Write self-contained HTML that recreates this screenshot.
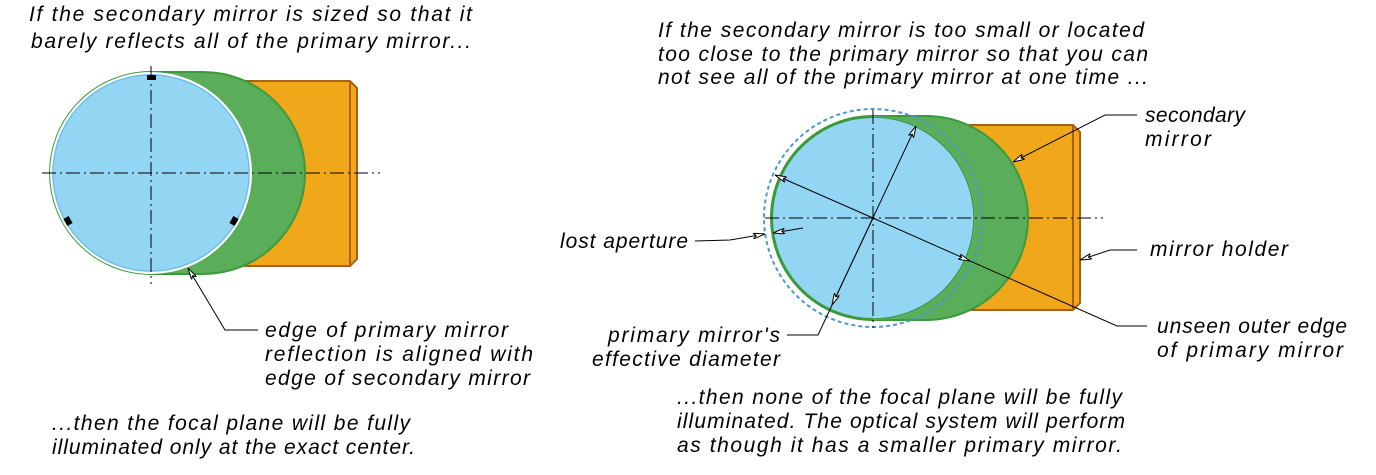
<!DOCTYPE html>
<html><head><meta charset="utf-8"><style>
html,body{margin:0;padding:0;background:#fff;}
svg{display:block}
text{font-family:"Liberation Sans",sans-serif;font-style:italic;font-size:21px;fill:#000;}
</style></head><body>
<svg width="1376" height="475" viewBox="0 0 1376 475" xmlns="http://www.w3.org/2000/svg">
<defs>
<marker id="ar" viewBox="0 0 12 6" refX="12" refY="3" markerWidth="12" markerHeight="6" orient="auto" markerUnits="userSpaceOnUse">
<path d="M0,0 L12,3 L0,6 L3,3 Z" fill="#fff" stroke="#000" stroke-width="1"/>
</marker>
<marker id="as" viewBox="0 0 12 6" refX="0" refY="3" markerWidth="12" markerHeight="6" orient="auto" markerUnits="userSpaceOnUse">
<path d="M12,0 L0,3 L12,6 L9,3 Z" fill="#fff" stroke="#000" stroke-width="1"/>
</marker>
</defs>

<!-- LEFT FIGURE -->
<polygon points="245,81 350,81 357,88 357,259 350,266 245,266" fill="#f0a81a" stroke="#a8601a" stroke-width="2"/>
<line x1="350" y1="82" x2="350" y2="265" stroke="#a8601a" stroke-width="2"/>
<g fill="#5aae5a" stroke="#3c9a3c" stroke-width="2">
<path d="M151,72 L203,72 A102,101 0 0 1 203,274 L151,274 A101,101 0 0 1 151,72 Z"/>
</g>
<circle cx="151" cy="173" r="100" fill="#92d6f4" stroke="#fff" stroke-width="2"/>
<circle cx="151" cy="173" r="98" fill="none" stroke="#6cb8e0" stroke-width="1"/>
<rect x="147" y="75" width="9" height="5" fill="#000"/>
<rect x="65" y="217" width="6" height="8" fill="#000" transform="rotate(-30 68 221)"/>
<rect x="231" y="217" width="6" height="8" fill="#000" transform="rotate(30 234 221)"/>
<g stroke="#000" stroke-width="1" stroke-dasharray="14,4,2,4" fill="none">
<line x1="42" y1="173" x2="380" y2="173"/>
<line x1="151" y1="66" x2="151" y2="284"/>
</g>
<polyline points="258,330 225,330 188,268" fill="none" stroke="#000" stroke-width="1" marker-end="url(#ar)"/>

<text x="29" y="21" textLength="443">If the secondary mirror is sized so that it</text>
<text x="31" y="48" textLength="440">barely reflects all of the primary mirror...</text>
<text x="265" y="337" textLength="243">edge of primary mirror</text>
<text x="265" y="361" textLength="268">reflection is aligned with</text>
<text x="265" y="385" textLength="265">edge of secondary mirror</text>
<text x="52" y="430" textLength="358">...then the focal plane will be fully</text>
<text x="52" y="454" textLength="363">illuminated only at the exact center.</text>

<!-- RIGHT FIGURE -->
<polygon points="965,125 1073,125 1080,132 1080,303 1073,310 965,310" fill="#f0a81a" stroke="#a8601a" stroke-width="2"/>
<line x1="1073" y1="126" x2="1073" y2="309" stroke="#a8601a" stroke-width="2"/>
<path d="M873,116 L926,116 A102,102 0 0 1 926,320 L873,320 A102,102 0 0 1 873,116 Z" fill="#5aae5a" stroke="#3c9a3c" stroke-width="2"/>
<circle cx="873" cy="218" r="101" fill="#92d6f4" stroke="#3c9a3c" stroke-width="2"/>
<path d="M873,116 A102,102 0 0 1 873,320" fill="#92d6f4" stroke="none"/>
<circle cx="873" cy="218" r="101" fill="none" stroke="#3c9a3c" stroke-width="1.5"/>
<circle cx="873" cy="218" r="109" fill="none" stroke="#4a9ad0" stroke-width="2" stroke-dasharray="4,3"/>
<g stroke="#000" stroke-width="1" stroke-dasharray="14,4,2,4" fill="none">
<line x1="765" y1="218" x2="1103" y2="218"/>
<line x1="873" y1="110" x2="873" y2="328"/>
</g>
<g stroke="#000" stroke-width="1" fill="none">
<line x1="873" y1="218" x2="775" y2="175" marker-end="url(#ar)"/>
<polyline points="873,218 1117,326 1147,326"/>
<line x1="965" y1="259" x2="970" y2="261" marker-end="url(#ar)"/>
<polyline points="787,335 818,335 916,126" marker-end="url(#ar)"/>
<line x1="873" y1="218" x2="832" y2="305" marker-end="url(#ar)"/>
<polyline points="695,241 730,240 765,234" marker-end="url(#ar)"/>
<line x1="803" y1="228" x2="773" y2="233" marker-end="url(#ar)"/>
<polyline points="1137,115 1105,115 1013,162" marker-end="url(#ar)"/>
<polyline points="1137,250 1110,250 1080,260" marker-end="url(#ar)"/>
</g>

<text x="658" y="37" textLength="486">If the secondary mirror is too small or located</text>
<text x="658" y="61" textLength="490">too close to the primary mirror so that you can</text>
<text x="658" y="84" textLength="490">not see all of the primary mirror at one time ...</text>
<text x="1145" y="122" textLength="100">secondary</text>
<text x="1145" y="146" textLength="66">mirror</text>
<text x="1150" y="256" textLength="138">mirror holder</text>
<text x="1157" y="333" textLength="190">unseen outer edge</text>
<text x="1157" y="357" textLength="186">of primary mirror</text>
<text x="560" y="248" textLength="128">lost aperture</text>
<text x="608" y="342" textLength="172">primary mirror's</text>
<text x="592" y="366" textLength="188">effective diameter</text>
<text x="677" y="404" textLength="445">...then none of the focal plane will be fully</text>
<text x="677" y="428" textLength="448">illuminated. The optical system will perform</text>
<text x="677" y="452" textLength="445">as though it has a smaller primary mirror.</text>
</svg>
</body></html>
